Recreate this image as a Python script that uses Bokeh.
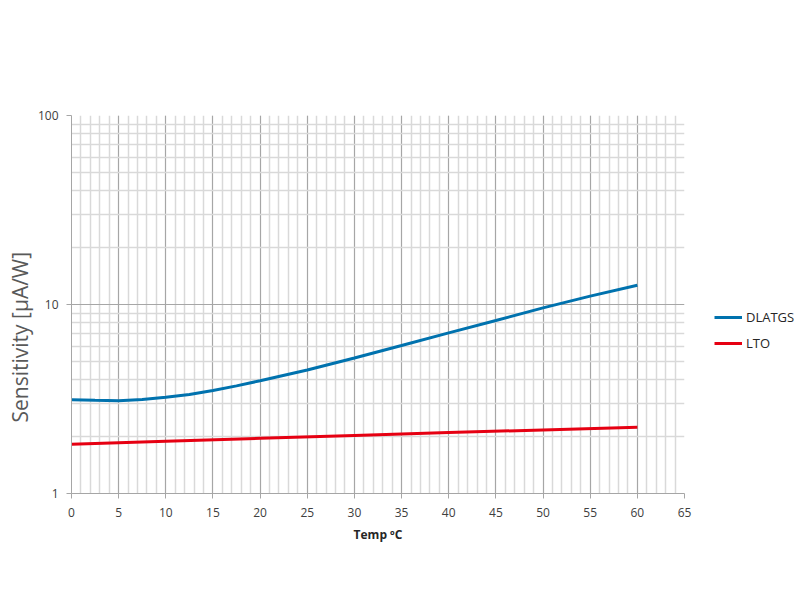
from bokeh.plotting import figure
from bokeh.models import FixedTicker, Legend, LegendItem, Range1d, NumeralTickFormatter, Title
from bokeh.embed import file_html
from bokeh.resources import INLINE

# values
temp = [0, 2.5, 5, 7.5, 10, 12.5, 15, 17.5, 20, 25, 30, 35, 40, 45, 50, 55, 60]
dlatgs = [3.13, 3.11, 3.10, 3.14, 3.23, 3.34, 3.51, 3.71, 3.95, 4.50, 5.21, 6.07, 7.08, 8.23, 9.60, 11.07, 12.65]
lto_temp = [0, 10, 20, 30, 40, 50, 60]
lto = [1.82, 1.89, 1.96, 2.03, 2.10, 2.17, 2.24]

x_ticks = list(range(0, 66, 5))
x_minor = list(range(0, 66, 1))
y_ticks = [1, 10, 100]
y_minor = [2, 3, 4, 5, 6, 7, 8, 9, 20, 30, 40, 50, 60, 70, 80, 90]

FONT = "Open Sans"
AXIS_GREY = "#a6a6a6"

p = figure(y_axis_type="log",
           x_range=Range1d(0, 65), y_range=Range1d(1, 100),
           frame_width=613, frame_height=378,
           min_border_left=71, min_border_right=112,
           min_border_top=115, min_border_bottom=91,
           output_backend="svg", toolbar_location=None)
p.outline_line_color = None

p.xaxis.ticker = FixedTicker(ticks=x_ticks, minor_ticks=x_minor)
p.yaxis.ticker = FixedTicker(ticks=y_ticks, minor_ticks=y_minor)
p.yaxis.formatter = NumeralTickFormatter(format="0")

for ax in (p.xaxis[0], p.yaxis[0]):
    ax.axis_line_color = AXIS_GREY
    ax.major_tick_line_color = AXIS_GREY
    ax.major_tick_out = 5
    ax.major_tick_in = 0
    ax.minor_tick_line_color = None
    ax.major_label_text_font = FONT
    ax.major_label_text_font_size = "12px"
    ax.major_label_text_color = "#404040"

p.xaxis.major_label_standoff = 9
p.yaxis.major_label_standoff = 8

p.xaxis.axis_label = "Temp \u00baC"
p.xaxis.axis_label_text_font = FONT
p.xaxis.axis_label_text_font_style = "bold"
p.xaxis.axis_label_text_font_size = "12px"
p.xaxis.axis_label_text_color = "#262626"
p.xaxis.axis_label_standoff = 6

# y title sits lower than the axis centre in the original, so use a Title
ytitle = Title(text="Sensitivity [\u00b5A/W]", align="left", offset=71,
               text_font=FONT, text_font_style="normal", text_font_size="21px",
               text_color="#595959", standoff=2)
p.add_layout(ytitle, "left")

for g in (p.xgrid[0], p.ygrid[0]):
    g.grid_line_color = AXIS_GREY
    g.grid_line_width = 1
    g.minor_grid_line_color = "#d9d9d9"
    g.minor_grid_line_width = 1.5

r1 = p.line(temp, dlatgs, line_color="#0072ae", line_width=3)
r2 = p.line(lto_temp, lto, line_color="#e60012", line_width=3)

legend = Legend(items=[LegendItem(label="DLATGS", renderers=[r1]),
                       LegendItem(label="LTO", renderers=[r2])],
                location=(30, 140), padding=0, margin=0,
                glyph_width=28, glyph_height=20, label_height=20,
                label_standoff=4, spacing=6,
                label_text_font=FONT, label_text_font_size="13px",
                label_text_color="#262626",
                border_line_color=None, background_fill_alpha=0)
p.add_layout(legend, "right")

open("out.html", "w").write(file_html(p, INLINE))
